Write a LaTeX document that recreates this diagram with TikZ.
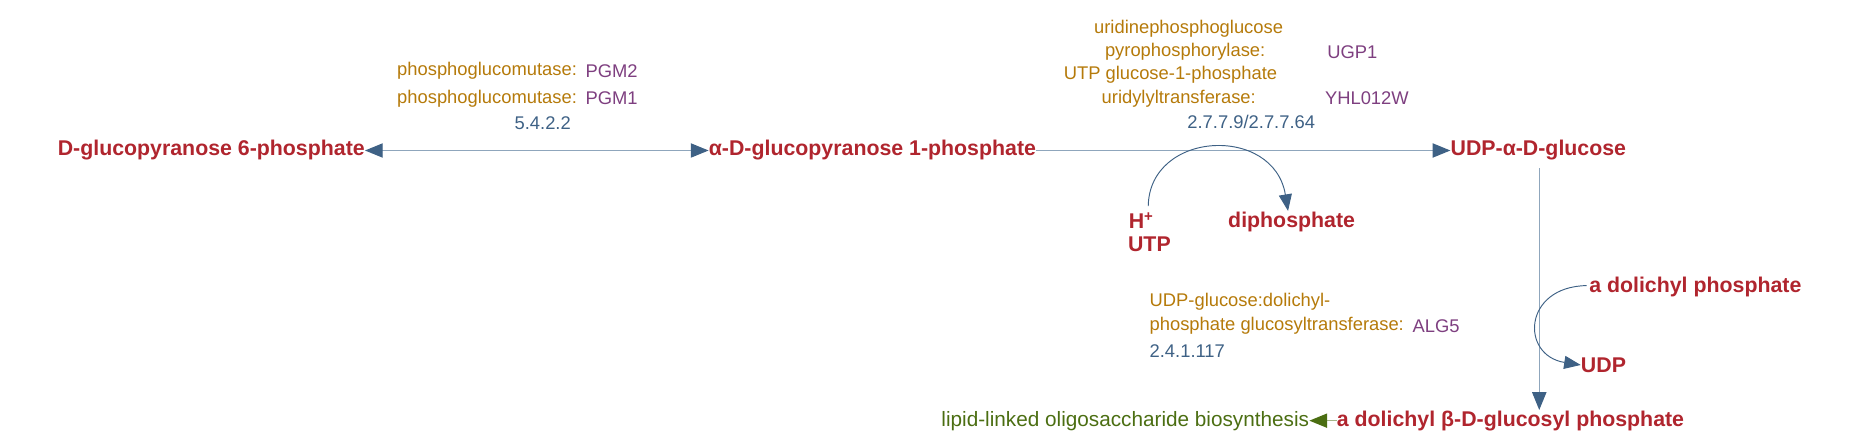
\documentclass[tikz,border=0pt]{standalone}
\usepackage{fontspec}
\setmainfont{Liberation Sans}
\usetikzlibrary{arrows.meta}
\definecolor{cpd}{HTML}{B0252E}
\definecolor{enz}{HTML}{B57A0A}
\definecolor{gene}{HTML}{7E3F80}
\definecolor{ec}{HTML}{3E6185}
\definecolor{path}{HTML}{4B6E12}
\definecolor{ln}{HTML}{8FA6BC}
\begin{document}
\begin{tikzpicture}[x=1pt,y=-1pt,
  every node/.style={inner sep=0pt,font=\fontsize{15.5}{17}\selectfont},
  c/.style={text=cpd,font=\fontsize{18}{20}\selectfont\bfseries},
  e/.style={text=enz},
  g/.style={text=gene},
  n/.style={text=ec},
  tip/.style={-{Triangle[length=15pt,width=12pt,color=ec]}},
  rx/.style={draw=ln,line width=1pt},
  side/.style={draw=ec,line width=0.8pt}]
\useasboundingbox (0,0) rectangle (1568,373);
% compounds
\node[c,anchor=east] (g6p) at (308,127) {D-glucopyranose 6-phosphate};
\node[c,anchor=west] (g1p) at (598,127) {α-D-glucopyranose 1-phosphate};
\node[c,anchor=west] (udpg) at (1224,127) {UDP-α-D-glucose};
\node[c,anchor=west] (dbg) at (1128,355) {a dolichyl β-D-glucosyl phosphate};
\node[text=path,anchor=east,font=\fontsize{17.5}{19}\selectfont] (lipid) at (1105,355) {lipid-linked oligosaccharide biosynthesis};
\node[c] (hp) at (963,186) {H\textsuperscript{+}};
\node[c] (utp) at (970,206) {UTP};
\node[c] (pp) at (1090,187) {diphosphate};
\node[c,anchor=west] (dp) at (1341,242) {a dolichyl phosphate};
\node[c,anchor=west] (udp) at (1334,308) {UDP};
% reactions
\draw[rx,{Triangle[length=15pt,width=12pt,color=ec]}-{Triangle[length=15pt,width=12pt,color=ec]}] (g6p.east) -- (g1p.west);
\draw[rx,tip] (g1p.east) -- (udpg.west);
\draw[rx,tip] (1299,142) -- (1299,346);
\draw[draw=path!50,line width=1pt,-{Triangle[length=15pt,width=12pt,color=path]}] (dbg.west) -- (lipid.east);
\coordinate (h1) at (969,174);
\draw[side,-{Triangle[length=14pt,width=11pt,color=ec]}] (h1) .. controls (970,110) and (1075,105) .. (1087,178);
\coordinate (d1) at (1339,241);
\draw[side,-{Triangle[length=14pt,width=11pt,color=ec]}] (d1) .. controls (1285,242) and (1283,300) .. (udp.west);
% labels
\node[e,anchor=west] (l1) at (335,60) {phosphoglucomutase:};
\node[g,anchor=west] (l1g) at (494,60) {PGM2};
\node[e,anchor=west] (l2) at (335,83) {phosphoglucomutase:};
\node[g,anchor=west] (l2g) at (494,83) {PGM1};
\node[n] (l3) at (458,104) {5.4.2.2};
\node[e,anchor=east] (u1) at (1083,24) {uridinephosphoglucose};
\node[e,anchor=east] (u2) at (1068,44) {pyrophosphorylase:};
\node[g,anchor=west] (u2g) at (1120,44) {UGP1};
\node[e,anchor=east] (u3) at (1078,63) {UTP glucose-1-phosphate};
\node[e,anchor=east] (u4) at (1060,83) {uridylyltransferase:};
\node[g,anchor=west] (u4g) at (1118,83) {YHL012W};
\node[n,anchor=east] (u5) at (1110,103) {2.7.7.9/2.7.7.64};
\node[e,anchor=west] (a1) at (970,255) {UDP-glucose:dolichyl-};
\node[e,anchor=west] (a2) at (970,275) {phosphate glucosyltransferase:};
\node[g,anchor=west] (a2g) at (1192,275) {ALG5};
\node[n,anchor=west] (a3) at (970,296) {2.4.1.117};
\end{tikzpicture}
\end{document}
